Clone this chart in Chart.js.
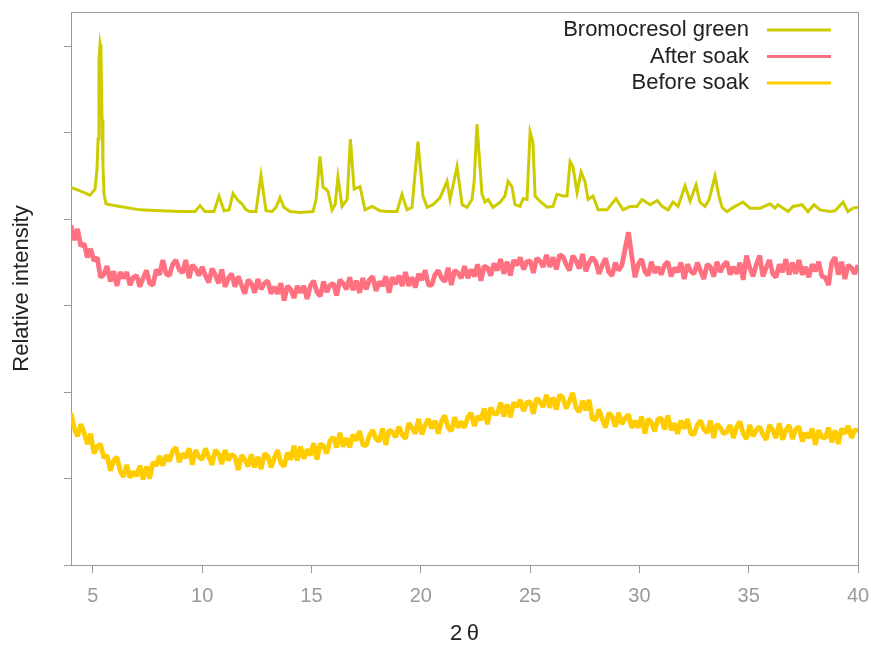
<!DOCTYPE html>
<html>
<head>
<meta charset="utf-8">
<title>XRD patterns</title>
<script src="https://cdn.jsdelivr.net/npm/chart.js@4.4.1/dist/chart.umd.min.js"></script>
<style>
  html, body { margin: 0; padding: 0; background: #ffffff; }
  canvas { display: block; }
</style>
</head>
<body>
<canvas id="xrd" width="871" height="645"></canvas>
<script>
// Series names and line colours
const seriesNames = ['Bromocresol green', 'After soak', 'Before soak'];
const seriesColors = ['#cccc00', '#ff7080', '#ffcc00'];

// Axis tick positions (y ticks carry no labels)
const xTicks = [5, 10, 15, 20, 25, 30, 35, 40];
const yTicks = [0, 100, 200, 300, 400, 500, 600];

// Bromocresol green reference pattern: 2θ positions and intensities (offset, a.u.)
const bcgTheta = [
  4.00, 4.41, 4.87, 5.10, 5.19, 5.24, 5.28, 5.33, 5.37, 5.42,
  5.46, 5.51, 5.60, 5.78, 6.24, 7.16, 8.07, 8.99, 9.67, 9.90,
  10.13, 10.54, 10.77, 11.00, 11.23, 11.41, 11.64, 11.82, 12.01, 12.19,
  12.46, 12.69, 12.92, 13.19, 13.38, 13.56, 13.74, 14.02, 14.48, 15.07,
  15.21, 15.39, 15.53, 15.67, 15.76, 15.94, 16.08, 16.21, 16.40, 16.63,
  16.78, 16.95, 17.22, 17.45, 17.77, 18.14, 18.46, 18.91, 19.14, 19.37,
  19.60, 19.87, 20.10, 20.29, 20.56, 20.88, 21.20, 21.34, 21.66, 21.89,
  22.12, 22.34, 22.44, 22.57, 22.66, 22.80, 22.94, 23.08, 23.30, 23.63,
  23.85, 23.99, 24.17, 24.31, 24.54, 24.68, 24.86, 25.00, 25.13, 25.23,
  25.45, 25.78, 26.05, 26.23, 26.51, 26.69, 26.83, 26.96, 27.15, 27.33,
  27.51, 27.65, 27.88, 28.11, 28.52, 28.93, 29.25, 29.57, 29.89, 30.12,
  30.49, 30.81, 31.04, 31.31, 31.54, 31.77, 32.09, 32.32, 32.59, 32.77,
  33.00, 33.19, 33.46, 33.64, 33.78, 34.01, 34.37, 34.74, 35.06, 35.52,
  35.98, 36.20, 36.34, 36.80, 37.03, 37.44, 37.71, 37.99, 38.26, 38.72,
  38.95, 39.32, 39.54, 39.77, 40.00
];
const bcgIntensity = [
  437, 433, 428, 435, 458, 493, 585, 603, 597, 516,
  464, 429, 418, 417, 415, 411, 410, 409, 409, 416,
  409, 409, 427, 410, 411, 430, 422, 418, 411, 409,
  409, 451, 410, 409, 414, 425, 414, 409, 408, 409,
  423, 473, 437, 435, 432, 411, 417, 449, 415, 423,
  493, 435, 438, 411, 415, 410, 409, 409, 429, 411,
  414, 490, 427, 414, 417, 425, 444, 423, 461, 417,
  414, 423, 443, 510, 478, 429, 420, 423, 414, 420,
  427, 444, 438, 417, 415, 424, 423, 501, 489, 427,
  421, 414, 415, 429, 427, 427, 467, 461, 431, 455,
  444, 423, 427, 411, 411, 424, 411, 415, 415, 423,
  417, 422, 415, 411, 420, 415, 439, 421, 440, 420,
  415, 423, 450, 427, 414, 409, 415, 420, 413, 413,
  418, 413, 417, 409, 415, 417, 409, 417, 411, 409,
  410, 420, 409, 413, 414
];

// Soaked samples were scanned from 4° to 40° 2θ in 0.15° steps
const scanStart = 4.0;
const scanStep = 0.15;

const afterSoak = [
  393, 376, 389, 369, 372, 356, 366, 352, 356, 333,
  336, 346, 328, 340, 323, 339, 332, 339, 324, 333,
  335, 322, 332, 341, 326, 324, 342, 336, 353, 337,
  335, 348, 353, 342, 338, 353, 332, 347, 343, 335,
  345, 335, 327, 343, 336, 326, 342, 322, 332, 337,
  322, 334, 324, 314, 330, 326, 315, 331, 319, 326,
  329, 314, 322, 314, 326, 306, 323, 319, 309, 323,
  315, 323, 308, 323, 329, 316, 311, 328, 316, 324,
  326, 312, 330, 326, 319, 333, 318, 329, 315, 332,
  319, 330, 334, 317, 328, 323, 334, 315, 333, 325,
  335, 323, 339, 323, 333, 321, 337, 330, 341, 324,
  324, 336, 341, 332, 328, 344, 324, 341, 338, 332,
  346, 332, 342, 334, 348, 329, 346, 344, 335, 349,
  341, 354, 337, 351, 335, 353, 347, 356, 342, 351,
  352, 338, 355, 352, 345, 359, 345, 356, 342, 359,
  357, 348, 341, 358, 352, 343, 360, 340, 350, 356,
  351, 337, 347, 355, 339, 335, 350, 341, 347, 366,
  385, 358, 333, 348, 354, 340, 335, 351, 338, 345,
  336, 347, 351, 334, 344, 339, 350, 331, 348, 340,
  337, 350, 340, 331, 348, 345, 334, 351, 339, 347,
  351, 336, 345, 337, 350, 330, 358, 344, 334, 348,
  358, 334, 344, 353, 337, 333, 348, 339, 354, 336,
  350, 337, 353, 336, 345, 333, 348, 340, 351, 334,
  333, 324, 350, 356, 336, 351, 331, 347, 344, 337,
  347
];

const beforeSoak = [
  176, 158, 149, 163, 153, 140, 152, 129, 137, 140,
  124, 127, 109, 121, 125, 109, 102, 116, 101, 108,
  103, 115, 99, 114, 100, 119, 115, 126, 115, 127,
  120, 132, 136, 119, 129, 124, 135, 116, 133, 125,
  122, 135, 125, 116, 133, 129, 117, 133, 121, 128,
  125, 110, 127, 122, 114, 128, 113, 125, 111, 129,
  126, 113, 124, 133, 118, 114, 130, 122, 138, 121,
  137, 123, 134, 127, 141, 122, 140, 138, 129, 144,
  148, 136, 153, 137, 147, 136, 151, 144, 155, 139,
  138, 150, 156, 146, 143, 158, 139, 156, 154, 148,
  160, 151, 146, 164, 159, 152, 169, 151, 162, 169,
  158, 167, 152, 167, 173, 159, 155, 171, 159, 166,
  159, 171, 176, 161, 172, 168, 181, 163, 182, 175,
  175, 188, 172, 186, 171, 188, 183, 191, 178, 188,
  189, 175, 193, 189, 183, 197, 182, 194, 180, 197,
  194, 181, 190, 199, 182, 177, 190, 179, 191, 169,
  168, 180, 169, 159, 176, 172, 160, 176, 163, 170,
  174, 159, 167, 159, 172, 152, 169, 165, 155, 169,
  170, 157, 173, 156, 164, 152, 167, 158, 169, 152,
  151, 162, 167, 157, 153, 167, 147, 163, 159, 152,
  154, 162, 147, 160, 166, 152, 146, 162, 149, 156,
  160, 151, 145, 162, 156, 147, 164, 145, 156, 162,
  146, 157, 160, 143, 153, 147, 158, 139, 156, 148,
  147, 159, 142, 156, 140, 158, 152, 161, 147, 156,
  156
];

const scanTheta = afterSoak.map((_, i) => +(scanStart + i * scanStep).toFixed(2));
const toPoints = (xs, ys) => xs.map((x, i) => ({ x: x, y: ys[i] }));

const axisGrey = '#999999';
const textFont = "'Liberation Sans', Arial, Helvetica, sans-serif";

// Key in the top-right corner: right-aligned name followed by a line sample
const seriesKey = {
  id: 'seriesKey',
  afterDatasetsDraw(chart) {
    const { ctx, chartArea } = chart;
    ctx.save();
    ctx.font = '22px ' + textFont;
    ctx.textAlign = 'right';
    ctx.textBaseline = 'middle';
    chart.data.datasets.forEach((ds, i) => {
      const y = chartArea.top + 18 + i * 26.5;
      ctx.fillStyle = '#222222';
      ctx.fillText(ds.label, chartArea.right - 109, y);
      ctx.strokeStyle = ds.borderColor;
      ctx.lineWidth = 3;
      ctx.beginPath();
      ctx.moveTo(chartArea.right - 91, y);
      ctx.lineTo(chartArea.right - 27, y);
      ctx.stroke();
    });
    ctx.restore();
  }
};

// Close the plot box along the top and right edges
const plotFrame = {
  id: 'plotFrame',
  afterDraw(chart) {
    const { ctx, chartArea } = chart;
    const l = Math.round(chartArea.left) + 0.5;
    const t = Math.round(chartArea.top) + 0.5;
    const r = Math.round(chartArea.right) + 0.5;
    const b = Math.round(chartArea.bottom) + 0.5;
    ctx.save();
    ctx.strokeStyle = axisGrey;
    ctx.lineWidth = 1;
    ctx.beginPath();
    ctx.moveTo(l, t);
    ctx.lineTo(r, t);
    ctx.lineTo(r, b);
    ctx.stroke();
    ctx.restore();
  }
};

const lineStyle = { pointRadius: 0, fill: false, tension: 0 };

new Chart(document.getElementById('xrd'), {
  type: 'line',
  data: {
    datasets: [
      Object.assign({
        label: seriesNames[0],
        data: toPoints(bcgTheta, bcgIntensity),
        borderColor: seriesColors[0],
        borderWidth: 3
      }, lineStyle),
      Object.assign({
        label: seriesNames[1],
        data: toPoints(scanTheta, afterSoak),
        borderColor: seriesColors[1],
        borderWidth: 4.8,
        borderJoinStyle: 'bevel'
      }, lineStyle),
      Object.assign({
        label: seriesNames[2],
        data: toPoints(scanTheta, beforeSoak),
        borderColor: seriesColors[2],
        borderWidth: 4.8,
        borderJoinStyle: 'bevel'
      }, lineStyle)
    ]
  },
  options: {
    responsive: false,
    animation: false,
    events: [],
    layout: { padding: { left: 0, top: 12, right: 0, bottom: 0 } },
    plugins: {
      legend: { display: false },
      tooltip: { enabled: false }
    },
    scales: {
      x: {
        type: 'linear',
        min: 4,
        max: 40,
        afterBuildTicks: (scale) => { scale.ticks = xTicks.map(v => ({ value: v })); },
        afterFit: (scale) => {
          scale.height = 80;
          scale.paddingLeft = 0;
          scale.paddingRight = 13;
        },
        ticks: {
          color: '#9a9a9a',
          font: { family: textFont, size: 20 },
          padding: 11,
          maxRotation: 0,
          autoSkip: false
        },
        grid: { display: true, drawOnChartArea: false, drawTicks: true, tickLength: 8, color: axisGrey },
        border: { display: true, color: axisGrey, width: 1 },
        title: {
          display: true,
          text: '2\u2009θ',
          color: '#222222',
          font: { family: textFont, size: 22, lineHeight: 1 },
          padding: { top: 0, bottom: 0 }
        }
      },
      y: {
        type: 'linear',
        min: 0,
        max: 640,
        afterBuildTicks: (scale) => { scale.ticks = yTicks.map(v => ({ value: v })); },
        afterFit: (scale) => { scale.width = 71; },
        ticks: { display: false },
        grid: { display: true, drawOnChartArea: false, drawTicks: true, tickLength: 7, color: axisGrey },
        border: { display: true, color: axisGrey, width: 1 },
        title: {
          display: true,
          text: 'Relative intensity',
          color: '#222222',
          font: { family: textFont, size: 22, lineHeight: 1.2 },
          padding: { top: 9, bottom: 0 }
        }
      }
    }
  },
  plugins: [seriesKey, plotFrame]
});
</script>
</body>
</html>
